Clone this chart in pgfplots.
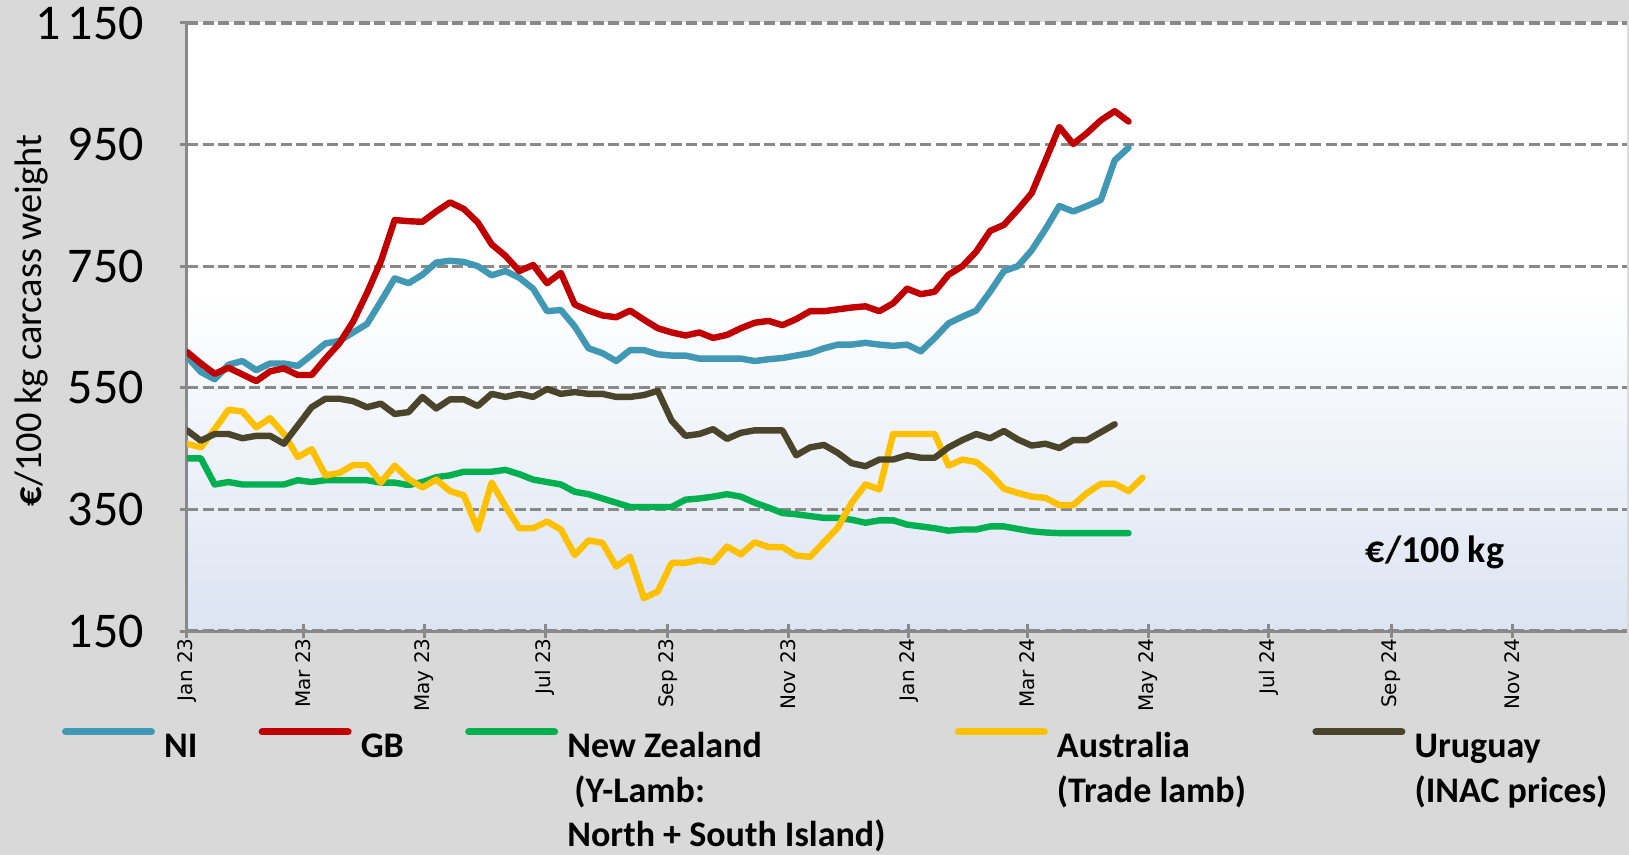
\documentclass[border=0pt]{standalone}
\usepackage{fontspec}
\setmainfont{Carlito}
\newfontfamily\dejavu{DejaVu Sans}
\usepackage{pgfplots}
\pgfplotsset{compat=1.18}
\usepackage{pgfplotstable}

\definecolor{bggrey}{RGB}{217,217,217}
\definecolor{gridgrey}{RGB}{137,137,137}
\definecolor{plotbottom}{RGB}{220,228,242}
\definecolor{cNI}{RGB}{65,152,180}
\definecolor{cGB}{RGB}{192,0,0}
\definecolor{cNZ}{RGB}{0,176,80}
\definecolor{cAU}{RGB}{255,192,0}
\definecolor{cUY}{RGB}{74,69,42}

\pgfdeclareverticalshading{plotshade}{100bp}{color(0bp)=(plotbottom); color(25bp)=(plotbottom); color(53bp)=(white); color(100bp)=(white)}

\pgfplotstableread{
day NI GB NZ AU UY
0 601 609 434 458 480
7 576 590 434 452 463
14 564 573 391 482 474
21 588 583 395 514 474
28 594 572 391 511 467
35 579 561 391 485 471
42 590 577 391 500 471
49 590 582 391 474 458
56 586 571 398 436 488
63 604 571 395 449 518
70 623 598 398 406 532
77 627 623 398 410 532
84 641 659 398 423 528
91 655 706 398 423 518
98 692 758 394 394 524
105 730 826 394 422 507
112 722 824 390 400 510
119 736 823 395 386 535
126 756 840 403 399 516
133 759 855 406 380 531
140 757 844 412 373 531
147 750 822 412 317 520
154 735 786 412 394 540
161 742 767 415 355 535
168 731 742 408 319 540
175 713 752 399 319 535
182 676 722 395 330 548
189 678 739 391 317 540
196 651 687 379 275 543
203 615 677 375 299 540
210 607 669 368 295 540
217 594 666 361 256 535
224 612 677 354 272 535
231 612 662 354 204 538
238 605 648 354 215 545
245 603 641 354 262 496
252 603 636 366 262 471
259 598 641 368 267 474
266 598 632 371 263 482
273 598 637 375 289 466
280 598 648 371 276 476
287 594 657 361 296 480
294 597 660 353 288 480
301 599 653 344 288 480
308 603 663 342 274 439
315 607 676 339 272 452
322 615 676 336 296 456
329 621 679 336 320 443
336 621 682 333 361 426
343 624 684 328 391 421
350 621 676 332 383 432
357 619 689 332 474 432
364 621 713 325 474 439
371 610 704 322 474 435
378 632 708 319 474 435
385 656 736 315 422 452
392 667 750 317 432 464
399 677 774 317 428 474
406 708 808 322 409 467
413 742 818 322 384 479
420 750 843 318 377 465
427 776 870 314 371 455
434 811 924 312 369 458
441 849 979 311 357 451
448 840 951 311 357 464
455 849 969 311 377 464
462 859 990 311 392 477
469 924 1005 311 392 490
476 945 988 311 380 nan
483 nan nan nan 402 nan
}\prices

\newcommand{\lgtext}[2]{\makebox[#1][l]{\hspace{4.6pt}\begin{tabular}[t]{@{}l@{}}#2\end{tabular}}}

\begin{document}
\begin{tikzpicture}
\fill[bggrey] (0pt,0pt) rectangle (814.5pt,-427.5pt);
\begin{axis}[
  at={(93.5pt,-315.5pt)}, anchor=south west,
  scale only axis, width=720pt, height=304pt,
  xmin=0, xmax=728, ymin=150, ymax=1150,
  axis x line*=bottom, axis y line*=left,
  axis line style={gridgrey, line width=1.5pt, -},
  axis background/.style={shade, shading=plotshade},
  xtick={0,59,120,181,243,304,365,425,486,547,609,670},
  xticklabels={Jan 23,Mar 23,May 23,Jul 23,Sep 23,Nov 23,Jan 24,Mar 24,May 24,Jul 24,Sep 24,Nov 24},
  xticklabel style={rotate=90, anchor=east, font=\dejavu\fontsize{10}{12}\selectfont, inner sep=0pt},
  ytick={150,350,550,750,950,1150},
  yticklabels={150,350,550,750,950,1\hspace{0.15em}150},
  yticklabel style={font=\fontsize{25}{30}\selectfont, xshift=-14.5pt},
  ymajorgrids,
  grid style={gridgrey, line width=1.6pt, dash pattern=on 5.5pt off 2.3pt},
  tick style={gridgrey, line width=1.5pt},
  tick align=center, major tick length=7pt,
  ylabel={\textbf{€}/100 kg carcass weight},
  ylabel style={at={(axis description cs:-0.108,0.511)}, anchor=center, font=\fontsize{19.2}{23}\selectfont},
  legend columns=5,
  legend cell align=left,
  legend image code/.code={\draw[line width=3.5pt, line cap=round] (0pt,5.8pt) -- (43pt,5.8pt);},
  legend style={draw=none, fill=none, at={(axis description cs:-0.0868,-0.157)}, anchor=north west,
    font=\bfseries\fontsize{18}{22.3}\selectfont, inner sep=0pt, outer sep=0pt,
    nodes={inner sep=0pt, outer sep=0pt},
    /tikz/every odd column/.style={column sep=0pt},
    /tikz/every even column/.style={column sep=0pt},
    column sep=0pt, row sep=0pt},
  every axis plot/.append style={line width=3.2pt, line join=round, line cap=round},
]
\addplot[cNI] table[x=day, y=NI] {\prices};
\addlegendentry{\lgtext{51.8pt}{NI}}
\addplot[cGB] table[x=day, y=GB] {\prices};
\addlegendentry{\lgtext{56.8pt}{GB}}
\addplot[cNZ] table[x=day, y=NZ] {\prices};
\addlegendentry{\lgtext{198.3pt}{New Zealand\\\hspace{3.5pt}(Y-Lamb:\\North + South Island)}}
\addplot[cAU] table[x=day, y=AU] {\prices};
\addlegendentry{\lgtext{132.3pt}{Australia\\(Trade lamb)}}
\addplot[cUY] table[x=day, y=UY] {\prices};
\addlegendentry{\lgtext{110pt}{Uruguay\\(INAC prices)}}
\node[font=\bfseries\fontsize{19}{23}\selectfont] at (rel axis cs:0.8667,0.13) {€/100 kg};
\end{axis}
\pgfresetboundingbox
\path (0pt,0pt) rectangle (814.5pt,-427.5pt);
\end{tikzpicture}
\end{document}
